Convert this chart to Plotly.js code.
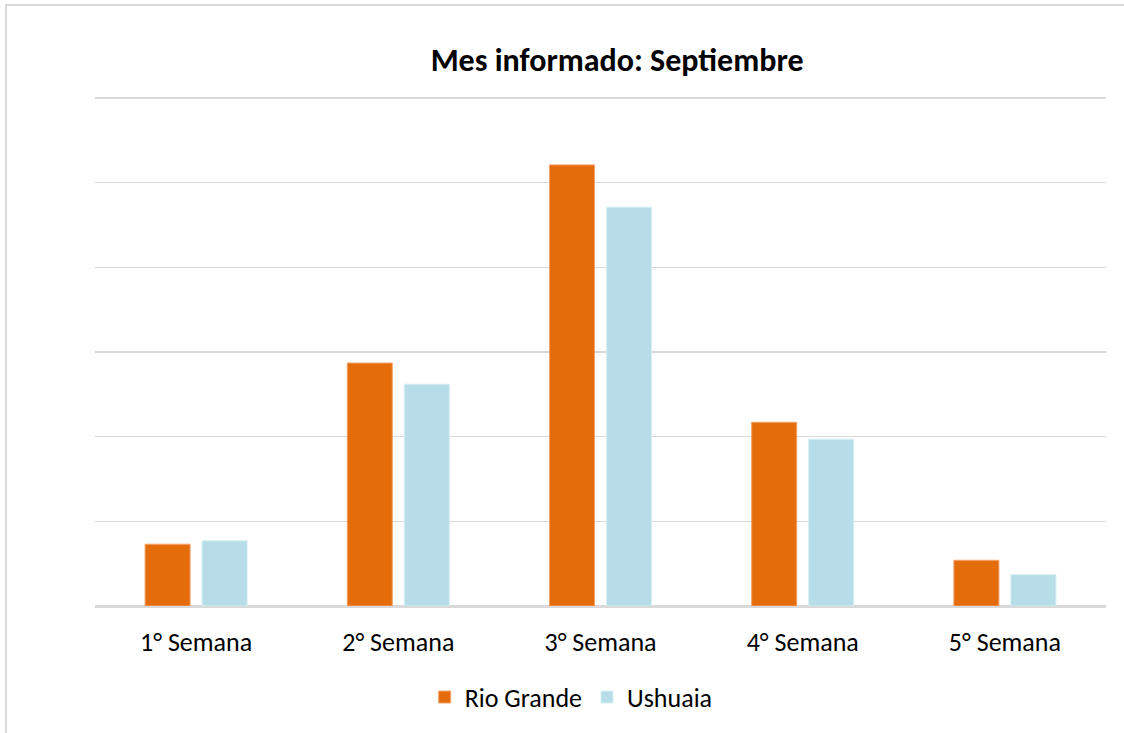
<!DOCTYPE html>
<html>
<head>
<meta charset="utf-8">
<script src="https://cdn.plot.ly/plotly-3.0.1.min.js"></script>
<style>
html,body{margin:0;padding:0;background:#fff;}
#wrap{position:relative;width:1124px;height:733px;overflow:hidden;}
#chart{width:1124px;height:733px;}
#frame{position:absolute;left:5px;top:4px;width:1200px;height:800px;border-left:2px solid #d9d9d9;border-top:2px solid #d9d9d9;pointer-events:none;box-sizing:border-box;}
</style>
</head>
<body>
<div id="wrap">
<div id="chart"></div>
<div id="frame"></div>
</div>
<script>
const categories = ["1° Semana", "2° Semana", "3° Semana", "4° Semana", "5° Semana"];
const rioGrande = [0.73, 2.87, 5.21, 2.17, 0.54];
const ushuaia = [0.77, 2.62, 4.71, 1.97, 0.37];
const seriesNames = ["Rio Grande", "Ushuaia"];
const title = "Mes informado: Septiembre";

const font = "Calibri, Carlito, 'Open Sans', 'Noto Sans', sans-serif";

const data = [
  {type: "bar", name: seriesNames[0], x: categories, y: rioGrande,
   marker: {color: "#E46C0A", line: {color: "#F2A36B", width: 1}}},
  {type: "bar", name: seriesNames[1], x: categories, y: ushuaia,
   marker: {color: "#B7DEE8", line: {color: "#D6EEF4", width: 1}}}
];

const layout = {
  width: 1124, height: 733,
  margin: {l: 95, r: 18, t: 97, b: 127},
  paper_bgcolor: "#ffffff", plot_bgcolor: "#ffffff",
  font: {family: font, color: "#000000", size: 26},
  title: {text: "<b>" + title + "</b>", x: 0.549, xanchor: "center", y: 0.918, yanchor: "middle",
          font: {family: font, size: 32, color: "#000000"}},
  barmode: "group", bargap: 0.436, bargroupgap: 0.21,
  xaxis: {showgrid: false, showline: true, linecolor: "#d9d9d9", linewidth: 2,
          ticks: "", ticklabelstandoff: 12,
          tickfont: {family: font, size: 26, color: "#000000"}, automargin: false},
  yaxis: {range: [0, 6.012], dtick: 1, showgrid: true, gridcolor: "#d9d9d9", gridwidth: 1.5,
          zeroline: true, zerolinecolor: "#d9d9d9", zerolinewidth: 2,
          showticklabels: false, ticks: "", automargin: false},
  showlegend: true,
  legend: {orientation: "h", x: 0.471, xanchor: "center", y: -0.179, yanchor: "middle",
           font: {family: font, size: 26, color: "#000000"}, itemwidth: 30, traceorder: "normal"}
};

Plotly.newPlot("chart", data, layout, {displayModeBar: false, staticPlot: true});
</script>
</body>
</html>
